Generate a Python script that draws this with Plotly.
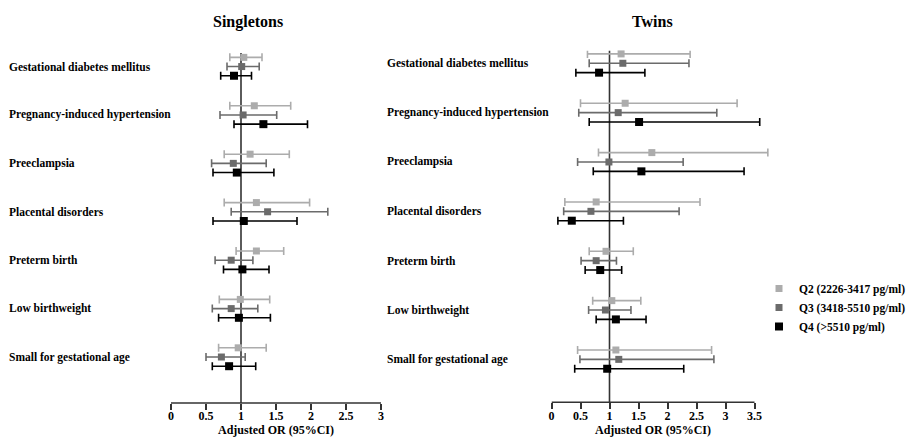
import plotly.graph_objects as go

categories = ["Gestational diabetes mellitus", "Pregnancy-induced hypertension", "Preeclampsia",
              "Placental disorders", "Preterm birth", "Low birthweight", "Small for gestational age"]
series_names = ["Q2 (2226-3417 pg/ml)", "Q3 (3418-5510 pg/ml)", "Q4 (>5510 pg/ml)"]
tick_vals_sing = [0, 0.5, 1, 1.5, 2, 2.5, 3]
tick_vals_twin = [0, 0.5, 1, 1.5, 2, 2.5, 3, 3.5]

# Singletons
sing_q2_or = [1.04, 1.19, 1.13, 1.22, 1.22, 0.99, 0.96]
sing_q2_lo = [0.84, 0.84, 0.76, 0.76, 0.93, 0.69, 0.68]
sing_q2_hi = [1.30, 1.71, 1.69, 1.98, 1.61, 1.41, 1.36]
sing_q3_or = [1.01, 1.03, 0.89, 1.38, 0.86, 0.86, 0.72]
sing_q3_lo = [0.80, 0.70, 0.58, 0.86, 0.63, 0.59, 0.50]
sing_q3_hi = [1.26, 1.51, 1.36, 2.24, 1.17, 1.24, 1.06]
sing_q4_or = [0.90, 1.32, 0.94, 1.04, 1.02, 0.97, 0.83]
sing_q4_lo = [0.71, 0.90, 0.60, 0.60, 0.75, 0.68, 0.59]
sing_q4_hi = [1.15, 1.95, 1.47, 1.80, 1.40, 1.42, 1.21]

# Twins
twin_q2_or = [1.20, 1.27, 1.73, 0.77, 0.94, 1.04, 1.11]
twin_q2_lo = [0.62, 0.50, 0.81, 0.23, 0.65, 0.71, 0.45]
twin_q2_hi = [2.39, 3.20, 3.73, 2.56, 1.41, 1.54, 2.76]
twin_q3_or = [1.23, 1.15, 0.99, 0.68, 0.77, 0.93, 1.16]
twin_q3_lo = [0.65, 0.47, 0.45, 0.21, 0.51, 0.64, 0.49]
twin_q3_hi = [2.37, 2.85, 2.27, 2.20, 1.12, 1.37, 2.80]
twin_q4_or = [0.82, 1.51, 1.55, 0.35, 0.84, 1.11, 0.96]
twin_q4_lo = [0.42, 0.65, 0.72, 0.11, 0.58, 0.77, 0.40]
twin_q4_hi = [1.61, 3.59, 3.32, 1.24, 1.21, 1.63, 2.28]

colors = ["#acacac", "#6b6b6b", "#000000"]
msizes = [7, 7, 8]
offsets = [-0.19, 0.0, 0.19]
FONT = "Liberation Serif, Times New Roman, serif"
W, H = 907, 437

panels = [
    ("x", "y", [(sing_q2_or, sing_q2_lo, sing_q2_hi), (sing_q3_or, sing_q3_lo, sing_q3_hi),
                (sing_q4_or, sing_q4_lo, sing_q4_hi)], True),
    ("x2", "y2", [(twin_q2_or, twin_q2_lo, twin_q2_hi), (twin_q3_or, twin_q3_lo, twin_q3_hi),
                  (twin_q4_or, twin_q4_lo, twin_q4_hi)], False),
]

fig = go.Figure()
for xa, ya, sers, show in panels:
    for k, (orv, lo, hi) in enumerate(sers):
        ypos = [i + offsets[k] for i in range(len(categories))]
        fig.add_trace(go.Scatter(
            x=orv, y=ypos, xaxis=xa, yaxis=ya, mode="markers",
            name=series_names[k], showlegend=show,
            cliponaxis=False,
            marker=dict(symbol="square", size=msizes[k], color=colors[k]),
            error_x=dict(type="data", symmetric=False,
                         array=[h - o for h, o in zip(hi, orv)],
                         arrayminus=[o - l for o, l in zip(orv, lo)],
                         color=colors[k], thickness=1.6, width=4),
        ))

tfont = dict(family=FONT, size=12, color="#000", weight="bold")
axis_common = dict(showgrid=False, zeroline=False, showline=False,
                   ticks="outside", ticklen=6, tickwidth=1.5, tickcolor="#333333",
                   ticklabelstandoff=-4, tickfont=tfont)
fig.update_layout(
    width=W, height=H, margin=dict(l=0, r=0, t=0, b=0, autoexpand=False),
    paper_bgcolor="white", plot_bgcolor="white",
    xaxis=dict(domain=[171/W, 381/W], range=[0, 3], anchor="y", tickvals=tick_vals_sing,
               ticktext=[f"{v:g}" for v in tick_vals_sing], **axis_common),
    xaxis2=dict(domain=[551.5/W, (551.5 + 58*3.8)/W], range=[0, 3.8], anchor="y2",
                tickvals=tick_vals_twin, ticktext=[f"{v:g}" for v in tick_vals_twin], **axis_common),
    yaxis=dict(domain=[1-403/H, 1-53/H], range=[6.95, -0.28], visible=False, anchor="x"),
    yaxis2=dict(domain=[1-402.3/H, 1-50.7/H], range=[6.87, -0.255], visible=False, anchor="x2"),
    legend=dict(x=759/W, y=1-274/H, xanchor="left", yanchor="top", tracegroupgap=0,
                font=dict(family=FONT, size=11.5, color="#000", weight="bold"),
                bgcolor="rgba(0,0,0,0)", itemwidth=30),
    showlegend=True,
)

shapes = []
for xa, ya, xmax in [("x", "y", tick_vals_sing[-1]), ("x2", "y2", tick_vals_twin[-1])]:
    shapes.append(dict(type="line", xref=xa, yref=f"{ya} domain", x0=1, x1=1, y0=0, y1=1,
                       line=dict(color="#333333", width=1.6), layer="below"))
    shapes.append(dict(type="line", xref=xa, yref=f"{ya} domain", x0=0, x1=xmax, y0=0, y1=0,
                       line=dict(color="#333333", width=1.5), layer="above"))
fig.update_layout(shapes=shapes)

annots = []
for i, c in enumerate(categories):
    annots.append(dict(text=c, xref="paper", yref="y", x=7/W, y=i, xanchor="left", yanchor="middle",
                       showarrow=False, font=dict(family=FONT, size=11.5, color="#000", weight="bold")))
    annots.append(dict(text=c, xref="paper", yref="y2", x=385/W, y=i, xanchor="left", yanchor="middle",
                       showarrow=False, font=dict(family=FONT, size=11.5, color="#000", weight="bold")))
annots.append(dict(text="Singletons", xref="paper", yref="paper", x=248/W, y=1-22/H,
                   xanchor="center", yanchor="middle", showarrow=False,
                   font=dict(family=FONT, size=16, color="#000", weight="bold")))
annots.append(dict(text="Twins", xref="paper", yref="paper", x=652/W, y=1-22/H,
                   xanchor="center", yanchor="middle", showarrow=False,
                   font=dict(family=FONT, size=16, color="#000", weight="bold")))
for cx in [276, 653]:
    annots.append(dict(text="Adjusted OR (95%CI)", xref="paper", yref="paper", x=cx/W, y=1-430/H,
                       xanchor="center", yanchor="middle", showarrow=False, font=tfont))
fig.update_layout(annotations=annots)

fig.write_html("out.html", config={"displayModeBar": False},
               post_script="document.body.style.margin='0';")
